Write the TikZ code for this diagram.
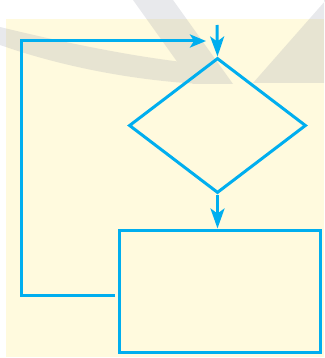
\documentclass[tikz,border=0pt]{standalone}
\usetikzlibrary{shapes.geometric,arrows.meta}
\definecolor{flowblue}{RGB}{0,174,239}
\definecolor{paper}{RGB}{255,250,222}
\definecolor{markgray}{RGB}{150,154,168}
\tikzset{
  flowline/.style={draw=flowblue,line width=3pt},
  flowarrow/.style={flowline,-{Stealth[length=20pt,width=14pt,inset=5pt]}},
  sidearrow/.style={flowline,-{Stealth[length=16pt,width=13pt,inset=4pt]}},
}
\begin{document}
\begin{tikzpicture}[x=1pt,y=-1pt]
\useasboundingbox (0,0) rectangle (324,358);
% background
\fill[paper] (6,19) rectangle (324,357);
% faint watermark
\begin{scope}[transparency group,opacity=0.22]
  \fill[markgray] (0,27) .. controls (70,44) and (140,58) .. (200,64)
     -- (200,84) .. controls (130,80) and (60,66) .. (0,45) -- cycle;
  \fill[markgray] (133,0) -- (173,0) -- (233,84) -- (193,84) -- cycle;
  \fill[markgray] (326,0) -- (253,83) -- (324,83) -- (324,0) -- cycle;
\end{scope}
% nodes
\node[diamond,flowline,fill=none,inner sep=0pt,minimum width=177pt,minimum height=135pt] (d) at (217.5,125.5) {};
\node[rectangle,flowline,inner sep=0pt,minimum width=201pt,minimum height=122pt] (r) at (219.5,291) {};
\coordinate (start) at (217,25);
\coordinate (loopend) at (206,41);
\coordinate (loopstart) at (115,295);
% connectors
\draw[flowarrow] (start) -- (d.north);
\draw[flowarrow] (d.south) -- (d.south |- r.north);
\draw[sidearrow] (loopstart) -- (21,295) |- (loopend);
\end{tikzpicture}
\end{document}
